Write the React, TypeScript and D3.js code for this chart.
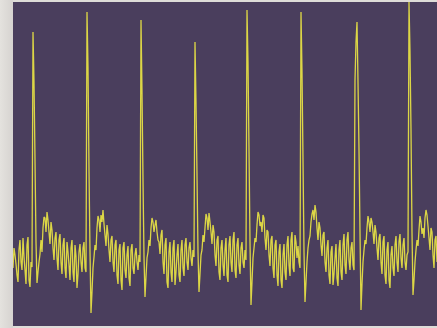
import React from "react";
import * as d3 from "d3";

// ECG trace samples (mV) on even sample slots
const ecgValues: number[] = [
  -0.06, 0.07, -0.13, 0.12, 0.0, 0.24, -0.08, 0.17, -0.18, 0.0,
  2.3, 1.02, -0.21, 0.0, 0.22, 0.34, 0.44, 0.5, 0.3, 0.4,
  0.14, 0.24, 0.04, 0.22, 0.0, 0.17, -0.06, 0.2, -0.03, 0.14,
  -0.1, 0.17, -0.26, 0.1, 0.0, 0.14, -0.06, 2.5, 0.92, -0.51,
  -0.06, 0.17, 0.34, 0.42, 0.47, 0.52, 0.27, 0.37, 0.12, 0.22,
  0.0, 0.17, -0.13, 0.12, -0.18, 0.14, -0.08, 0.07, -0.16, 0.12,
  -0.06, 0.07, 0.0, 0.07, 2.42, 0.82, -0.35, 0.04, 0.22, 0.34,
  0.4, 0.37, 0.3, 0.2, 0.27, 0.0, 0.17, -0.2, 0.1, -0.1,
  0.14, -0.23, 0.07, -0.13, 0.12, -0.06, 0.17, 0.0, 0.14, 0.04,
  0.12, 2.2, 0.87, -0.3, 0.07, 0.27, 0.34, 0.44, 0.49, 0.3,
  0.37, 0.07, 0.22, -0.1, 0.14, -0.03, 0.12, -0.13, 0.17, 0.0,
  0.22, -0.08, 0.17, -0.03, 0.14, 0.0, 0.12, 2.52, 1.12, -0.43,
  0.04, 0.24, 0.37, 0.47, 0.4, 0.47, 0.24, 0.32, 0.07, 0.22,
  -0.06, 0.17, -0.13, 0.1, -0.18, 0.07, -0.1, 0.17, -0.03, 0.22,
  -0.06, 0.27, 0.04, 0.0, 2.5, 1.02, -0.4, 0.0, 0.22, 0.4,
  0.52, 0.57, 0.34, 0.4, 0.17, 0.27, 0.0, 0.14, -0.13, 0.1,
  -0.23, 0.04, -0.16, 0.12, -0.1, 0.17, -0.03, 0.22, 0.02, 0.14,
  -0.03, 1.82, 2.4, 1.12, -0.48, 0.0, 0.22, 0.34, 0.4, 0.44,
  0.3, 0.37, 0.14, 0.24, 0.0, 0.2, -0.13, 0.12, -0.18, 0.07,
  -0.06, 0.17, 0.0, 0.2, 0.04, 0.17, 0.0, 0.07, 2.6, 1.32,
  -0.33, 0.0, 0.22, 0.32, 0.4, 0.34, 0.44, 0.47, 0.24, 0.34,
  0.07, 0.22, 0.0,
];

// ECG trace samples (mV) on the odd slots, between the even ones
const ecgMidValues: number[] = [
  0.14, -0.02, -0.2, 0.22, -0.08, 0.05, -0.22, 0.25, -0.25, -0.05,
  1.8, 0.2, -0.1, 0.08, 0.1, 0.45, 0.3, 0.42, 0.18, 0.32,
  0.02, 0.3, -0.08, 0.28, -0.12, 0.24, -0.16, 0.1, -0.18, 0.22,
  -0.2, 0.06, -0.12, 0.18, -0.1, 0.2, -0.1, 1.95, 0.1, -0.3,
  0.05, 0.12, 0.46, 0.3, 0.4, 0.38, 0.16, 0.28, 0.0, 0.26,
  -0.1, 0.22, -0.22, 0.18, -0.28, 0.2, -0.16, 0.16, -0.24, 0.18,
  -0.12, 0.14, -0.08, 0.0, 1.7, 0.05, -0.15, 0.1, 0.16, 0.44,
  0.3, 0.42, 0.22, 0.08, 0.32, -0.12, 0.24, -0.26, 0.2, -0.2,
  0.22, -0.1, 0.18, -0.2, 0.22, -0.14, 0.24, -0.08, 0.2, -0.04,
  0.05, 1.6, 0.1, -0.12, 0.12, 0.2, 0.48, 0.32, 0.4, 0.18,
  0.3, -0.04, 0.26, -0.18, 0.22, -0.14, 0.24, -0.2, 0.26, -0.1,
  0.3, -0.16, 0.24, -0.12, 0.2, -0.06, 0.02, 2.0, 0.2, -0.2,
  0.14, 0.2, 0.5, 0.36, 0.3, 0.44, 0.12, 0.3, -0.04, 0.26,
  -0.16, 0.22, -0.24, 0.18, -0.26, 0.18, -0.18, 0.26, -0.14, 0.3,
  -0.1, 0.2, 0.16, -0.06, 1.9, 0.1, -0.2, 0.14, 0.26, 0.48,
  0.42, 0.5, 0.22, 0.34, 0.06, 0.3, -0.1, 0.22, -0.22, 0.16,
  -0.12, 0.18, -0.24, 0.22, -0.18, 0.28, -0.12, 0.3, -0.08, 0.2,
  -0.08, 2.2, 1.8, 0.3, -0.22, 0.12, 0.18, 0.46, 0.3, 0.4,
  0.18, 0.3, 0.02, 0.28, -0.12, 0.26, -0.22, 0.2, -0.26, 0.16,
  -0.14, 0.26, -0.1, 0.28, -0.06, 0.24, -0.08, 0.1, 2.1, 0.3,
  -0.18, 0.12, 0.16, 0.46, 0.28, 0.24, 0.52, 0.36, 0.12, 0.3,
  -0.06, 0.26,
];

const W = 437;
const H = 328;
const plot = { left: 13, top: 2, right: 437, bottom: 326 };

export default function App() {
  const samples: number[] = [];
  ecgValues.forEach((v, i) => {
    samples.push(v);
    if (i < ecgMidValues.length) samples.push(ecgMidValues[i]);
  });

  const x = d3
    .scaleLinear()
    .domain([0, samples.length - 1])
    .range([plot.left, plot.right]);
  const y = d3.scaleLinear().domain([-0.6, 2.6]).range([322, 2]);
  const line = d3
    .line<number>()
    .x((_, i) => x(i))
    .y((d) => y(d))
    .curve(d3.curveLinear);

  return (
    <svg
      width={W}
      height={H}
      style={{ position: "absolute", left: 0, top: 0, display: "block" }}
    >
      <defs>
        <clipPath id="plotclip">
          <rect
            x={plot.left}
            y={plot.top}
            width={plot.right - plot.left}
            height={plot.bottom - plot.top}
          />
        </clipPath>
        <linearGradient id="edge" x1="0" x2="1" y1="0" y2="0">
          <stop offset="0" stopColor="#e4e2de" />
          <stop offset="1" stopColor="#d6d3d0" />
        </linearGradient>
      </defs>
      <rect x={0} y={0} width={W} height={H} fill="#dedcd8" />
      <rect x={0} y={0} width={plot.left} height={H} fill="url(#edge)" />
      <rect
        x={plot.left}
        y={plot.top}
        width={plot.right - plot.left}
        height={plot.bottom - plot.top}
        fill="#4a3e5d"
      />
      <g clipPath="url(#plotclip)">
        <path
          d={line(samples) || ""}
          fill="none"
          stroke="#dcd646"
          strokeWidth={1.3}
          strokeLinejoin="miter"
          strokeMiterlimit={2}
        />
      </g>
    </svg>
  );
}
